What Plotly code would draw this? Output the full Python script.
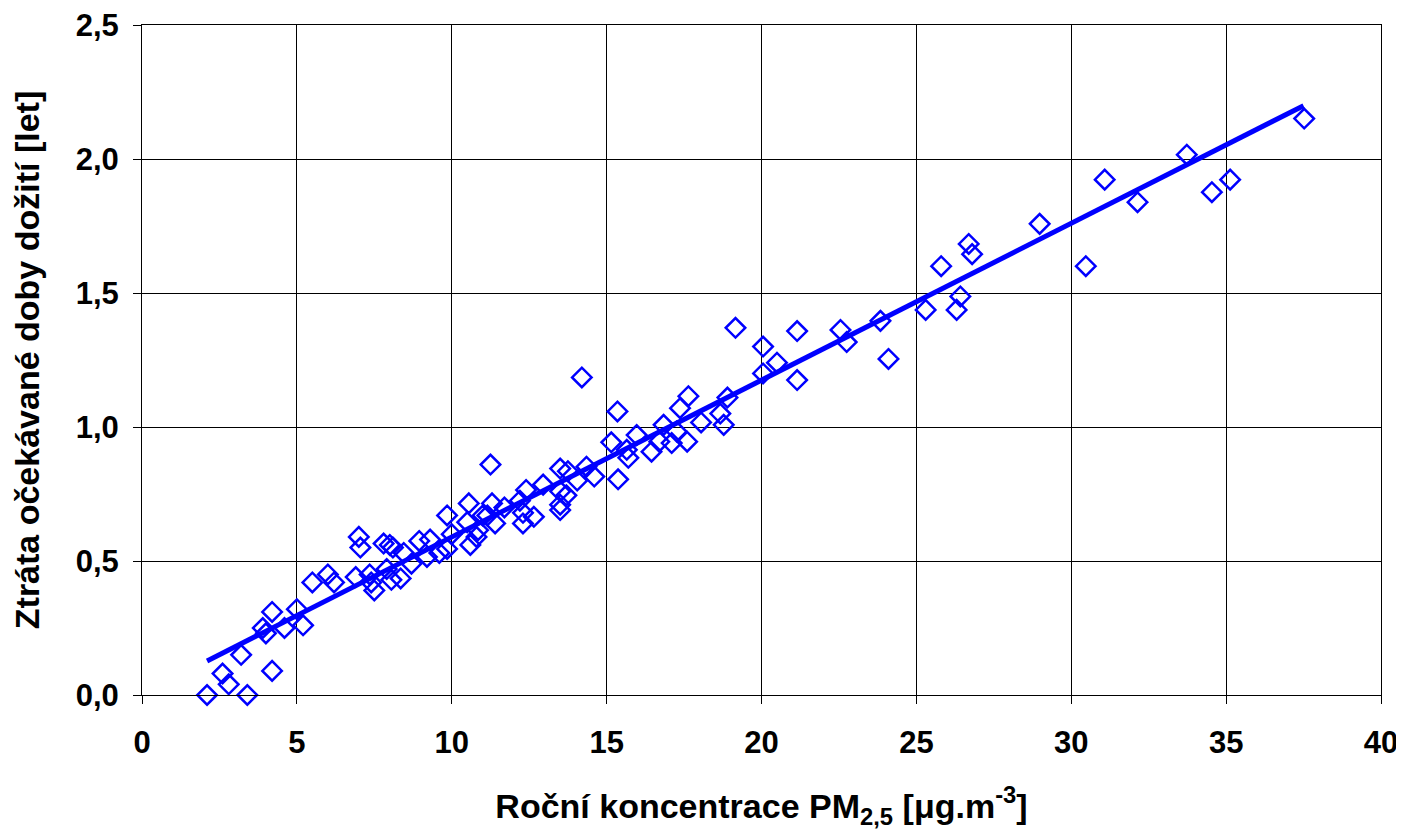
import plotly.graph_objects as go

# PM2.5 annual concentration [ug/m3]
pm25 = [2.1, 2.6, 2.8, 3.2, 3.4, 3.9, 4.0, 4.2, 4.2, 4.6, 5.0, 5.2, 5.5, 6.0, 6.2,
        6.9, 7.0, 7.05, 7.35, 7.4, 7.5, 7.8, 7.9, 8.0, 8.05, 8.1, 8.35, 8.45, 8.7,
        8.95, 9.2, 9.3, 9.6, 9.85, 9.85, 10.0, 10.5, 10.55, 10.6, 10.8, 10.85, 11.0,
        11.15, 11.25, 11.3, 11.4, 11.7, 12.2, 12.3, 12.3, 12.4, 12.65, 12.95, 13.5,
        13.5, 13.5, 13.5, 13.7, 13.75, 14.05, 14.2, 14.35, 14.6, 15.15, 15.35, 15.37,
        15.65, 15.7, 15.97, 16.45, 16.7, 16.84, 17.1, 17.26, 17.37, 17.6, 17.64,
        18.05, 18.67, 18.78, 18.9, 19.16, 20.05, 20.05, 20.5, 21.15, 21.15, 22.55,
        22.75, 23.84, 24.1, 25.3, 25.8, 26.3, 26.42, 26.69, 26.8, 28.98, 30.47,
        31.08, 32.14, 33.73, 34.54, 35.13, 37.52]

# Loss of life expectancy [years]
loss = [0.00, 0.08, 0.04, 0.15, 0.00, 0.25, 0.23, 0.31, 0.09, 0.25, 0.32, 0.26, 0.42, 0.45, 0.42,
        0.44, 0.59, 0.55, 0.45, 0.42, 0.39, 0.565, 0.47, 0.56, 0.43, 0.55, 0.435, 0.53, 0.49,
        0.575, 0.515, 0.58, 0.53, 0.67, 0.545, 0.60, 0.645, 0.715, 0.56, 0.59, 0.615, 0.67,
        0.67, 0.86, 0.715, 0.64, 0.70, 0.725, 0.68, 0.64, 0.765, 0.665, 0.785, 0.845,
        0.76, 0.71, 0.69, 0.745, 0.835, 0.80, 1.185, 0.852, 0.815, 0.943, 1.058, 0.805,
        0.915, 0.885, 0.97, 0.908, 0.945, 1.008, 0.94, 0.983, 1.07, 0.945, 1.115,
        1.017, 1.05, 1.008, 1.11, 1.37, 1.20, 1.30, 1.24, 1.175, 1.358, 1.362,
        1.317, 1.396, 1.254, 1.437, 1.60, 1.437, 1.487, 1.683, 1.645, 1.758, 1.60,
        1.923, 1.839, 2.016, 1.876, 1.923, 2.151]

# Linear trend line endpoints
trend_x = [2.1, 37.5]
trend_y = [0.127, 2.199]

x_ticks = [0, 5, 10, 15, 20, 25, 30, 35, 40]
y_ticks = [0.0, 0.5, 1.0, 1.5, 2.0, 2.5]

FONT = "Arial, Liberation Sans, sans-serif"
BLUE = "#0000FF"

fig = go.Figure()
fig.add_trace(go.Scatter(
    x=pm25, y=loss, mode="markers",
    marker=dict(symbol="diamond-open", size=15, color=BLUE, line=dict(width=2.5, color=BLUE)),
    showlegend=False, cliponaxis=False,
))
fig.add_trace(go.Scatter(
    x=trend_x, y=trend_y, mode="lines",
    line=dict(color=BLUE, width=5),
    showlegend=False,
))

# page body has an 8px default margin, so the figure is sized to fit inside the window
fig.update_layout(
    width=1396, height=825,
    paper_bgcolor="white", plot_bgcolor="white",
    margin=dict(l=134, r=23, t=17, b=138, autoexpand=False),
    separators=", ",
    font=dict(family=FONT, color="black"),
)
fig.update_xaxes(
    range=[0, 40], tickvals=x_ticks, automargin=False,
    showgrid=True, gridcolor="#000000", gridwidth=1,
    showline=True, linecolor="#000000", linewidth=1, mirror=True,
    ticks="outside", ticklen=8, tickcolor="#000000",
    ticklabelstandoff=12, ticklabeloverflow="allow",
    tickfont=dict(family=FONT, size=31, weight="bold"),
    zeroline=False,
    title=dict(text="Roční koncentrace PM<sub>2,5</sub> [μg.m<sup>-3</sup>]",
               font=dict(family=FONT, size=34, weight="bold"), standoff=34),
)
fig.update_yaxes(
    range=[0, 2.5], tickvals=y_ticks, tickformat=".1f", automargin=False,
    showgrid=True, gridcolor="#000000", gridwidth=1,
    showline=True, linecolor="#000000", linewidth=1, mirror=True,
    ticks="outside", ticklen=8, tickcolor="#000000",
    ticklabelstandoff=8, ticklabeloverflow="allow",
    tickfont=dict(family=FONT, size=31, weight="bold"),
    zeroline=False,
    title=dict(text="Ztráta očekávané doby dožití [let]",
               font=dict(family=FONT, size=34, weight="bold"), standoff=26),
)

fig.write_html("out.html")
